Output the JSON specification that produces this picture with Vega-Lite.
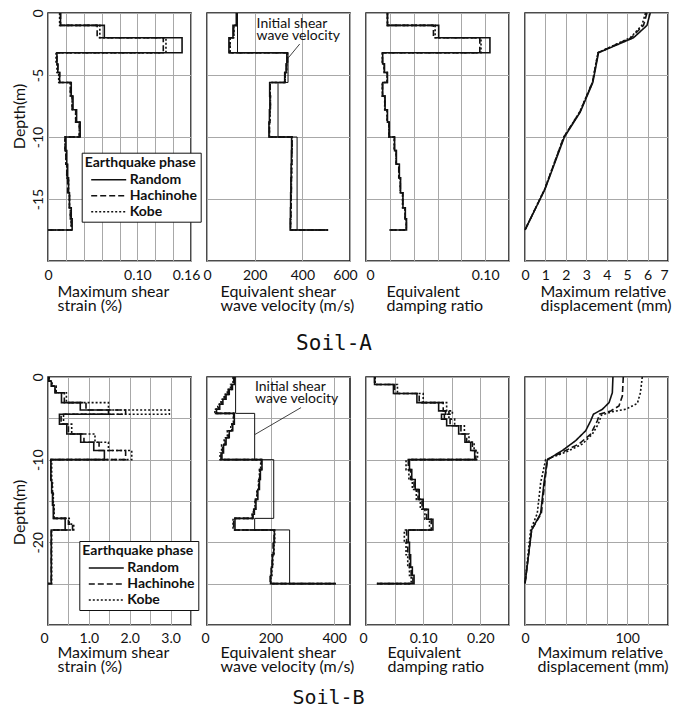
{
"$schema":"https://vega.github.io/schema/vega-lite/v6.json",
"padding":{"left":10,"top":8,"right":5,"bottom":0},
"config":{
 "view":{"stroke":"#111","strokeWidth":1.5},
 "axis":{"grid":true,"gridColor":"#a8a8a8","gridWidth":1,"domain":false,"ticks":false,"labelFont":"Lato","labelFontSize":14,"labelColor":"#111","titleFont":"Lato","titleFontSize":16,"titleFontWeight":"normal","titleColor":"#111","labelFlush":false,"labelOverlap":false},
 "axisX":{"labelPadding":7,"titleAlign":"left","titleAnchor":"start","titleBaseline":"top","titleLineHeight":14},
 "axisY":{"labelAngle":-90,"labelAlign":"center","labelBaseline":"alphabetic","labelPadding":6,"titlePadding":4},
 "legend":{"symbolType":"M-5,0H5","symbolSize":49,"symbolStrokeWidth":1.5,"symbolStrokeColor":"#111","labelFont":"Lato","labelFontSize":14,"labelFontWeight":"bold","labelColor":"#111","titleFont":"Lato","titleFontSize":14,"titleFontWeight":"bold","titleColor":"#111","fillColor":"#ffffff","strokeColor":"#111","padding":3,"rowPadding":2,"titlePadding":3,"labelOffset":14,"symbolOffset":17}
},
"datasets":{
 "a1":[
  {"p":"Random","v":0.014,"d":0},{"p":"Random","v":0.063,"d":-1.0},{"p":"Random","v":0.150,"d":-2.0},{"p":"Random","v":0.010,"d":-3.2},{"p":"Random","v":0.011,"d":-4.1},{"p":"Random","v":0.013,"d":-4.8},{"p":"Random","v":0.026,"d":-5.6},{"p":"Random","v":0.028,"d":-6.7},{"p":"Random","v":0.032,"d":-7.8},{"p":"Random","v":0.036,"d":-8.8},{"p":"Random","v":0.020,"d":-10.0},{"p":"Random","v":0.021,"d":-11.1},{"p":"Random","v":0.022,"d":-12.2},{"p":"Random","v":0.023,"d":-13.3},{"p":"Random","v":0.024,"d":-14.5},{"p":"Random","v":0.026,"d":-15.7},{"p":"Random","v":0.027,"d":-16.6},{"p":"Random","v":0,"d":-17.5},
  {"p":"Hachinohe","v":0.014,"d":0},{"p":"Hachinohe","v":0.055,"d":-1.0},{"p":"Hachinohe","v":0.129,"d":-2.0},{"p":"Hachinohe","v":0.010,"d":-3.2},{"p":"Hachinohe","v":0.011,"d":-4.1},{"p":"Hachinohe","v":0.013,"d":-4.8},{"p":"Hachinohe","v":0.025,"d":-5.6},{"p":"Hachinohe","v":0.027,"d":-6.7},{"p":"Hachinohe","v":0.031,"d":-7.8},{"p":"Hachinohe","v":0.035,"d":-8.8},{"p":"Hachinohe","v":0.019,"d":-10.0},{"p":"Hachinohe","v":0.020,"d":-11.1},{"p":"Hachinohe","v":0.021,"d":-12.2},{"p":"Hachinohe","v":0.022,"d":-13.3},{"p":"Hachinohe","v":0.024,"d":-14.5},{"p":"Hachinohe","v":0.025,"d":-15.7},{"p":"Hachinohe","v":0.026,"d":-16.6},{"p":"Hachinohe","v":0,"d":-17.5},
  {"p":"Kobe","v":0.013,"d":0},{"p":"Kobe","v":0.058,"d":-1.0},{"p":"Kobe","v":0.132,"d":-2.0},{"p":"Kobe","v":0.009,"d":-3.2},{"p":"Kobe","v":0.010,"d":-4.1},{"p":"Kobe","v":0.012,"d":-4.8},{"p":"Kobe","v":0.025,"d":-5.6},{"p":"Kobe","v":0.027,"d":-6.7},{"p":"Kobe","v":0.031,"d":-7.8},{"p":"Kobe","v":0.035,"d":-8.8},{"p":"Kobe","v":0.019,"d":-10.0},{"p":"Kobe","v":0.020,"d":-11.1},{"p":"Kobe","v":0.021,"d":-12.2},{"p":"Kobe","v":0.023,"d":-13.3},{"p":"Kobe","v":0.024,"d":-14.5},{"p":"Kobe","v":0.025,"d":-15.7},{"p":"Kobe","v":0.026,"d":-16.6},{"p":"Kobe","v":0,"d":-17.5}
 ],
 "a2":[
  {"p":"Random","v":123,"d":0},{"p":"Random","v":109,"d":-1.0},{"p":"Random","v":92,"d":-2.0},{"p":"Random","v":335,"d":-3.2},{"p":"Random","v":332,"d":-4.1},{"p":"Random","v":326,"d":-4.8},{"p":"Random","v":263,"d":-5.6},{"p":"Random","v":264,"d":-6.7},{"p":"Random","v":262,"d":-7.8},{"p":"Random","v":260,"d":-8.8},{"p":"Random","v":355,"d":-10.0},{"p":"Random","v":354,"d":-11.1},{"p":"Random","v":353,"d":-12.2},{"p":"Random","v":352,"d":-13.3},{"p":"Random","v":351,"d":-14.5},{"p":"Random","v":350,"d":-15.7},{"p":"Random","v":349,"d":-16.6},{"p":"Random","v":508,"d":-17.5},
  {"p":"Hachinohe","v":125,"d":0},{"p":"Hachinohe","v":112,"d":-1.0},{"p":"Hachinohe","v":96,"d":-2.0},{"p":"Hachinohe","v":338,"d":-3.2},{"p":"Hachinohe","v":334,"d":-4.1},{"p":"Hachinohe","v":328,"d":-4.8},{"p":"Hachinohe","v":265,"d":-5.6},{"p":"Hachinohe","v":266,"d":-6.7},{"p":"Hachinohe","v":264,"d":-7.8},{"p":"Hachinohe","v":262,"d":-8.8},{"p":"Hachinohe","v":357,"d":-10.0},{"p":"Hachinohe","v":356,"d":-11.1},{"p":"Hachinohe","v":355,"d":-12.2},{"p":"Hachinohe","v":354,"d":-13.3},{"p":"Hachinohe","v":353,"d":-14.5},{"p":"Hachinohe","v":352,"d":-15.7},{"p":"Hachinohe","v":351,"d":-16.6},{"p":"Hachinohe","v":508,"d":-17.5},
  {"p":"Kobe","v":126,"d":0},{"p":"Kobe","v":113,"d":-1.0},{"p":"Kobe","v":97,"d":-2.0},{"p":"Kobe","v":337,"d":-3.2},{"p":"Kobe","v":334,"d":-4.1},{"p":"Kobe","v":328,"d":-4.8},{"p":"Kobe","v":265,"d":-5.6},{"p":"Kobe","v":266,"d":-6.7},{"p":"Kobe","v":264,"d":-7.8},{"p":"Kobe","v":262,"d":-8.8},{"p":"Kobe","v":357,"d":-10.0},{"p":"Kobe","v":356,"d":-11.1},{"p":"Kobe","v":355,"d":-12.2},{"p":"Kobe","v":354,"d":-13.3},{"p":"Kobe","v":353,"d":-14.5},{"p":"Kobe","v":352,"d":-15.7},{"p":"Kobe","v":351,"d":-16.6},{"p":"Kobe","v":508,"d":-17.5}
 ],
 "a2i":[{"v":128,"d":0},{"v":340,"d":-3.2},{"v":298,"d":-5.6},{"v":378,"d":-10.0},{"v":508,"d":-17.5}],
 "a2t":[{"v":208,"d":-0.3,"t":"Initial shear\nwave velocity"}],
 "a2r":[{"v":389,"d":-2.5,"v2":342,"d2":-3.6}],
 "a3":[
  {"p":"Random","v":0.018,"d":0},{"p":"Random","v":0.061,"d":-1.0},{"p":"Random","v":0.104,"d":-2.0},{"p":"Random","v":0.014,"d":-3.2},{"p":"Random","v":0.0155,"d":-4.1},{"p":"Random","v":0.018,"d":-4.8},{"p":"Random","v":0.014,"d":-5.6},{"p":"Random","v":0.016,"d":-6.7},{"p":"Random","v":0.018,"d":-7.8},{"p":"Random","v":0.0195,"d":-8.8},{"p":"Random","v":0.024,"d":-10.0},{"p":"Random","v":0.0255,"d":-11.1},{"p":"Random","v":0.028,"d":-12.2},{"p":"Random","v":0.029,"d":-13.3},{"p":"Random","v":0.031,"d":-14.5},{"p":"Random","v":0.033,"d":-15.7},{"p":"Random","v":0.034,"d":-16.6},{"p":"Random","v":0.0195,"d":-17.5},
  {"p":"Hachinohe","v":0.018,"d":0},{"p":"Hachinohe","v":0.0566,"d":-1.0},{"p":"Hachinohe","v":0.0955,"d":-2.0},{"p":"Hachinohe","v":0.0138,"d":-3.2},{"p":"Hachinohe","v":0.0153,"d":-4.1},{"p":"Hachinohe","v":0.0178,"d":-4.8},{"p":"Hachinohe","v":0.0138,"d":-5.6},{"p":"Hachinohe","v":0.0158,"d":-6.7},{"p":"Hachinohe","v":0.0178,"d":-7.8},{"p":"Hachinohe","v":0.0193,"d":-8.8},{"p":"Hachinohe","v":0.0238,"d":-10.0},{"p":"Hachinohe","v":0.0253,"d":-11.1},{"p":"Hachinohe","v":0.0275,"d":-12.2},{"p":"Hachinohe","v":0.0288,"d":-13.3},{"p":"Hachinohe","v":0.0308,"d":-14.5},{"p":"Hachinohe","v":0.0328,"d":-15.7},{"p":"Hachinohe","v":0.0338,"d":-16.6},{"p":"Hachinohe","v":0.0195,"d":-17.5},
  {"p":"Kobe","v":0.018,"d":0},{"p":"Kobe","v":0.058,"d":-1.0},{"p":"Kobe","v":0.0965,"d":-2.0},{"p":"Kobe","v":0.0137,"d":-3.2},{"p":"Kobe","v":0.0152,"d":-4.1},{"p":"Kobe","v":0.0177,"d":-4.8},{"p":"Kobe","v":0.0137,"d":-5.6},{"p":"Kobe","v":0.0157,"d":-6.7},{"p":"Kobe","v":0.0177,"d":-7.8},{"p":"Kobe","v":0.0192,"d":-8.8},{"p":"Kobe","v":0.0237,"d":-10.0},{"p":"Kobe","v":0.0252,"d":-11.1},{"p":"Kobe","v":0.0276,"d":-12.2},{"p":"Kobe","v":0.0287,"d":-13.3},{"p":"Kobe","v":0.0307,"d":-14.5},{"p":"Kobe","v":0.0327,"d":-15.7},{"p":"Kobe","v":0.0337,"d":-16.6},{"p":"Kobe","v":0.0195,"d":-17.5}
 ],
 "a4":[
  {"p":"Random","v":6.13,"d":0},{"p":"Random","v":5.97,"d":-1.0},{"p":"Random","v":5.31,"d":-2.0},{"p":"Random","v":3.6,"d":-3.2},{"p":"Random","v":3.32,"d":-5.6},{"p":"Random","v":2.70,"d":-8.0},{"p":"Random","v":1.93,"d":-10.0},{"p":"Random","v":0.98,"d":-14.2},{"p":"Random","v":0,"d":-17.5},
  {"p":"Hachinohe","v":5.97,"d":0},{"p":"Hachinohe","v":5.8,"d":-1.0},{"p":"Hachinohe","v":5.2,"d":-2.0},{"p":"Hachinohe","v":3.58,"d":-3.2},{"p":"Hachinohe","v":3.3,"d":-5.6},{"p":"Hachinohe","v":2.68,"d":-8.0},{"p":"Hachinohe","v":1.9,"d":-10.0},{"p":"Hachinohe","v":0.97,"d":-14.2},{"p":"Hachinohe","v":0,"d":-17.5},
  {"p":"Kobe","v":5.9,"d":0},{"p":"Kobe","v":5.72,"d":-1.0},{"p":"Kobe","v":5.15,"d":-2.0},{"p":"Kobe","v":3.57,"d":-3.2},{"p":"Kobe","v":3.3,"d":-5.6},{"p":"Kobe","v":2.67,"d":-8.0},{"p":"Kobe","v":1.9,"d":-10.0},{"p":"Kobe","v":0.96,"d":-14.2},{"p":"Kobe","v":0,"d":-17.5}
 ],
 "b1":[
  {"p":"Random","v":0.02,"d":0},{"p":"Random","v":0.08,"d":-0.5},{"p":"Random","v":0.17,"d":-1.1},{"p":"Random","v":0.33,"d":-1.9},{"p":"Random","v":0.79,"d":-3.1},{"p":"Random","v":1.48,"d":-4.0},{"p":"Random","v":0.28,"d":-4.5},{"p":"Random","v":0.46,"d":-5.7},{"p":"Random","v":0.80,"d":-6.9},{"p":"Random","v":1.12,"d":-7.9},{"p":"Random","v":1.38,"d":-8.9},{"p":"Random","v":0.07,"d":-10.0},{"p":"Random","v":0.09,"d":-12.5},{"p":"Random","v":0.11,"d":-14.0},{"p":"Random","v":0.13,"d":-15.5},{"p":"Random","v":0.42,"d":-17.1},{"p":"Random","v":0.08,"d":-18.5},{"p":"Random","v":0.08,"d":-21.0},{"p":"Random","v":0,"d":-25.0},
  {"p":"Hachinohe","v":0.02,"d":0},{"p":"Hachinohe","v":0.09,"d":-0.5},{"p":"Hachinohe","v":0.18,"d":-1.1},{"p":"Hachinohe","v":0.40,"d":-1.9},{"p":"Hachinohe","v":0.93,"d":-3.1},{"p":"Hachinohe","v":1.90,"d":-4.0},{"p":"Hachinohe","v":0.32,"d":-4.5},{"p":"Hachinohe","v":0.50,"d":-5.7},{"p":"Hachinohe","v":0.88,"d":-6.9},{"p":"Hachinohe","v":1.25,"d":-7.9},{"p":"Hachinohe","v":1.90,"d":-8.9},{"p":"Hachinohe","v":0.07,"d":-10.0},{"p":"Hachinohe","v":0.10,"d":-12.5},{"p":"Hachinohe","v":0.12,"d":-14.0},{"p":"Hachinohe","v":0.14,"d":-15.5},{"p":"Hachinohe","v":0.50,"d":-17.1},{"p":"Hachinohe","v":0.60,"d":-17.8},{"p":"Hachinohe","v":0.08,"d":-18.5},{"p":"Hachinohe","v":0.08,"d":-21.0},{"p":"Hachinohe","v":0,"d":-25.0},
  {"p":"Kobe","v":0.03,"d":0},{"p":"Kobe","v":0.10,"d":-0.5},{"p":"Kobe","v":0.20,"d":-1.1},{"p":"Kobe","v":0.45,"d":-1.9},{"p":"Kobe","v":1.48,"d":-3.1},{"p":"Kobe","v":2.97,"d":-4.0},{"p":"Kobe","v":0.38,"d":-4.5},{"p":"Kobe","v":0.58,"d":-5.7},{"p":"Kobe","v":1.15,"d":-6.9},{"p":"Kobe","v":1.48,"d":-7.9},{"p":"Kobe","v":2.05,"d":-8.9},{"p":"Kobe","v":0.09,"d":-10.0},{"p":"Kobe","v":0.11,"d":-12.5},{"p":"Kobe","v":0.13,"d":-14.0},{"p":"Kobe","v":0.15,"d":-15.5},{"p":"Kobe","v":0.52,"d":-17.1},{"p":"Kobe","v":0.63,"d":-17.8},{"p":"Kobe","v":0.09,"d":-18.5},{"p":"Kobe","v":0.09,"d":-21.0},{"p":"Kobe","v":0,"d":-25.0}
 ],
 "b2":[
  {"p":"Random","v":86,"d":0},{"p":"Random","v":80,"d":-0.9},{"p":"Random","v":70,"d":-1.5},{"p":"Random","v":60,"d":-2.1},{"p":"Random","v":50,"d":-2.7},{"p":"Random","v":40,"d":-3.3},{"p":"Random","v":30,"d":-3.9},{"p":"Random","v":86,"d":-4.4},{"p":"Random","v":81,"d":-5.7},{"p":"Random","v":70,"d":-6.5},{"p":"Random","v":60,"d":-7.35},{"p":"Random","v":52,"d":-8.2},{"p":"Random","v":47,"d":-9.2},{"p":"Random","v":173,"d":-10.0},{"p":"Random","v":168,"d":-11.2},{"p":"Random","v":165,"d":-12.4},{"p":"Random","v":160,"d":-13.6},{"p":"Random","v":154,"d":-14.8},{"p":"Random","v":149,"d":-16.0},{"p":"Random","v":145,"d":-16.6},{"p":"Random","v":88,"d":-17.1},{"p":"Random","v":212,"d":-18.5},{"p":"Random","v":210,"d":-20.0},{"p":"Random","v":206,"d":-21.5},{"p":"Random","v":203,"d":-23.0},{"p":"Random","v":200,"d":-24.0},{"p":"Random","v":405,"d":-25.0},
  {"p":"Hachinohe","v":84,"d":0},{"p":"Hachinohe","v":77,"d":-0.9},{"p":"Hachinohe","v":67,"d":-1.5},{"p":"Hachinohe","v":57,"d":-2.1},{"p":"Hachinohe","v":47,"d":-2.7},{"p":"Hachinohe","v":37,"d":-3.3},{"p":"Hachinohe","v":27,"d":-3.9},{"p":"Hachinohe","v":84,"d":-4.4},{"p":"Hachinohe","v":78,"d":-5.7},{"p":"Hachinohe","v":67,"d":-6.5},{"p":"Hachinohe","v":57,"d":-7.35},{"p":"Hachinohe","v":49,"d":-8.2},{"p":"Hachinohe","v":44,"d":-9.2},{"p":"Hachinohe","v":171,"d":-10.0},{"p":"Hachinohe","v":166,"d":-11.2},{"p":"Hachinohe","v":163,"d":-12.4},{"p":"Hachinohe","v":158,"d":-13.6},{"p":"Hachinohe","v":152,"d":-14.8},{"p":"Hachinohe","v":147,"d":-16.0},{"p":"Hachinohe","v":143,"d":-16.6},{"p":"Hachinohe","v":84,"d":-17.1},{"p":"Hachinohe","v":211,"d":-18.5},{"p":"Hachinohe","v":208,"d":-20.0},{"p":"Hachinohe","v":205,"d":-21.5},{"p":"Hachinohe","v":202,"d":-23.0},{"p":"Hachinohe","v":199,"d":-24.0},{"p":"Hachinohe","v":405,"d":-25.0},
  {"p":"Kobe","v":82,"d":0},{"p":"Kobe","v":74,"d":-0.9},{"p":"Kobe","v":64,"d":-1.5},{"p":"Kobe","v":54,"d":-2.1},{"p":"Kobe","v":44,"d":-2.7},{"p":"Kobe","v":34,"d":-3.3},{"p":"Kobe","v":25,"d":-3.9},{"p":"Kobe","v":83,"d":-4.4},{"p":"Kobe","v":75,"d":-5.7},{"p":"Kobe","v":64,"d":-6.5},{"p":"Kobe","v":54,"d":-7.35},{"p":"Kobe","v":46,"d":-8.2},{"p":"Kobe","v":41,"d":-9.2},{"p":"Kobe","v":169,"d":-10.0},{"p":"Kobe","v":165,"d":-11.2},{"p":"Kobe","v":162,"d":-12.4},{"p":"Kobe","v":157,"d":-13.6},{"p":"Kobe","v":151,"d":-14.8},{"p":"Kobe","v":146,"d":-16.0},{"p":"Kobe","v":142,"d":-16.6},{"p":"Kobe","v":82,"d":-17.1},{"p":"Kobe","v":213,"d":-18.5},{"p":"Kobe","v":211,"d":-20.0},{"p":"Kobe","v":207,"d":-21.5},{"p":"Kobe","v":204,"d":-23.0},{"p":"Kobe","v":201,"d":-24.0},{"p":"Kobe","v":405,"d":-25.0}
 ],
 "b2i":[{"v":90,"d":0},{"v":150,"d":-4.4},{"v":210,"d":-10.0},{"v":150,"d":-17.1},{"v":260,"d":-18.5},{"v":405,"d":-25.0}],
 "b2t":[{"v":151,"d":-0.35,"t":"Initial shear\nwave velocity"}],
 "b2r":[{"v":296,"d":-3.7,"v2":151,"d2":-6.95}],
 "b3":[
  {"p":"Random","v":0.015,"d":0},{"p":"Random","v":0.048,"d":-0.9},{"p":"Random","v":0.089,"d":-2.0},{"p":"Random","v":0.127,"d":-3.1},{"p":"Random","v":0.139,"d":-4.1},{"p":"Random","v":0.132,"d":-4.5},{"p":"Random","v":0.141,"d":-5.1},{"p":"Random","v":0.162,"d":-5.9},{"p":"Random","v":0.173,"d":-6.9},{"p":"Random","v":0.183,"d":-7.9},{"p":"Random","v":0.190,"d":-8.9},{"p":"Random","v":0.076,"d":-10.0},{"p":"Random","v":0.080,"d":-11.2},{"p":"Random","v":0.086,"d":-12.4},{"p":"Random","v":0.093,"d":-13.6},{"p":"Random","v":0.100,"d":-14.8},{"p":"Random","v":0.109,"d":-16.0},{"p":"Random","v":0.117,"d":-17.2},{"p":"Random","v":0.074,"d":-18.5},{"p":"Random","v":0.076,"d":-20.0},{"p":"Random","v":0.078,"d":-21.5},{"p":"Random","v":0.081,"d":-23.0},{"p":"Random","v":0.084,"d":-24.0},{"p":"Random","v":0.019,"d":-25.0},
  {"p":"Hachinohe","v":0.015,"d":0},{"p":"Hachinohe","v":0.050,"d":-0.9},{"p":"Hachinohe","v":0.093,"d":-2.0},{"p":"Hachinohe","v":0.135,"d":-3.1},{"p":"Hachinohe","v":0.145,"d":-4.1},{"p":"Hachinohe","v":0.137,"d":-4.5},{"p":"Hachinohe","v":0.147,"d":-5.1},{"p":"Hachinohe","v":0.166,"d":-5.9},{"p":"Hachinohe","v":0.176,"d":-6.9},{"p":"Hachinohe","v":0.186,"d":-7.9},{"p":"Hachinohe","v":0.192,"d":-8.9},{"p":"Hachinohe","v":0.074,"d":-10.0},{"p":"Hachinohe","v":0.078,"d":-11.2},{"p":"Hachinohe","v":0.084,"d":-12.4},{"p":"Hachinohe","v":0.091,"d":-13.6},{"p":"Hachinohe","v":0.098,"d":-14.8},{"p":"Hachinohe","v":0.106,"d":-16.0},{"p":"Hachinohe","v":0.114,"d":-17.2},{"p":"Hachinohe","v":0.071,"d":-18.5},{"p":"Hachinohe","v":0.073,"d":-20.0},{"p":"Hachinohe","v":0.076,"d":-21.5},{"p":"Hachinohe","v":0.079,"d":-23.0},{"p":"Hachinohe","v":0.082,"d":-24.0},{"p":"Hachinohe","v":0.019,"d":-25.0},
  {"p":"Kobe","v":0.016,"d":0},{"p":"Kobe","v":0.055,"d":-0.9},{"p":"Kobe","v":0.100,"d":-2.0},{"p":"Kobe","v":0.141,"d":-3.1},{"p":"Kobe","v":0.151,"d":-4.1},{"p":"Kobe","v":0.145,"d":-4.5},{"p":"Kobe","v":0.155,"d":-5.1},{"p":"Kobe","v":0.172,"d":-5.9},{"p":"Kobe","v":0.180,"d":-6.9},{"p":"Kobe","v":0.189,"d":-7.9},{"p":"Kobe","v":0.195,"d":-8.9},{"p":"Kobe","v":0.070,"d":-10.0},{"p":"Kobe","v":0.075,"d":-11.2},{"p":"Kobe","v":0.081,"d":-12.4},{"p":"Kobe","v":0.088,"d":-13.6},{"p":"Kobe","v":0.095,"d":-14.8},{"p":"Kobe","v":0.103,"d":-16.0},{"p":"Kobe","v":0.111,"d":-17.2},{"p":"Kobe","v":0.067,"d":-18.5},{"p":"Kobe","v":0.070,"d":-20.0},{"p":"Kobe","v":0.073,"d":-21.5},{"p":"Kobe","v":0.076,"d":-23.0},{"p":"Kobe","v":0.079,"d":-24.0},{"p":"Kobe","v":0.019,"d":-25.0}
 ],
 "b4":[
  {"p":"Random","v":86.1,"d":0},{"p":"Random","v":85.5,"d":-1.9},{"p":"Random","v":82.3,"d":-3.1},{"p":"Random","v":75.8,"d":-3.9},{"p":"Random","v":67,"d":-4.5},{"p":"Random","v":64.3,"d":-5.3},{"p":"Random","v":59.4,"d":-6.5},{"p":"Random","v":49.6,"d":-7.7},{"p":"Random","v":36.5,"d":-8.9},{"p":"Random","v":21.9,"d":-10.0},{"p":"Random","v":18.6,"d":-12.8},{"p":"Random","v":15.3,"d":-16.5},{"p":"Random","v":6.5,"d":-18.5},{"p":"Random","v":0,"d":-25.0},
  {"p":"Hachinohe","v":96.2,"d":0},{"p":"Hachinohe","v":95.3,"d":-2.3},{"p":"Hachinohe","v":92,"d":-3.5},{"p":"Hachinohe","v":84,"d":-4.1},{"p":"Hachinohe","v":73,"d":-4.5},{"p":"Hachinohe","v":70.8,"d":-5.3},{"p":"Hachinohe","v":64.3,"d":-6.9},{"p":"Hachinohe","v":52.9,"d":-8.1},{"p":"Hachinohe","v":36.5,"d":-9.1},{"p":"Hachinohe","v":21.9,"d":-10.0},{"p":"Hachinohe","v":19.3,"d":-12.8},{"p":"Hachinohe","v":16,"d":-16.5},{"p":"Hachinohe","v":6.5,"d":-18.5},{"p":"Hachinohe","v":0,"d":-25.0},
  {"p":"Kobe","v":114.8,"d":0},{"p":"Kobe","v":113,"d":-1.9},{"p":"Kobe","v":110,"d":-3.2},{"p":"Kobe","v":98.6,"d":-3.9},{"p":"Kobe","v":85.5,"d":-4.2},{"p":"Kobe","v":74.9,"d":-4.6},{"p":"Kobe","v":71.7,"d":-5.7},{"p":"Kobe","v":66,"d":-6.9},{"p":"Kobe","v":56.3,"d":-8.1},{"p":"Kobe","v":39.8,"d":-9.1},{"p":"Kobe","v":20.2,"d":-10.0},{"p":"Kobe","v":15.3,"d":-12.8},{"p":"Kobe","v":12,"d":-16.5},{"p":"Kobe","v":5.5,"d":-18.5},{"p":"Kobe","v":0,"d":-25.0}
 ]
},
"spacing":18,
"resolve":{"scale":{"strokeDash":"independent"},"legend":{"strokeDash":"independent"}},
"vconcat":[
 {
  "bounds":"flush","spacing":16,
  "resolve":{"scale":{"strokeDash":"independent"},"legend":{"strokeDash":"independent"}},
  "title":{"text":"Soil-A","orient":"bottom","anchor":"middle","dx":-7,"offset":19,"font":"DejaVu Sans Mono","fontSize":21,"fontWeight":"normal","color":"#111"},
  "hconcat":[
   {"width":143,"height":248,"layer":[
    {"data":{"name":"a1"},"mark":{"type":"line","interpolate":"step-before","strokeWidth":1.6,"color":"#111"},
     "encoding":{
      "x":{"field":"v","type":"quantitative","scale":{"domain":[0,0.16],"nice":false},"axis":{"values":[0,0.02,0.04,0.06,0.08,0.1,0.12,0.14,0.16],"labelExpr":"datum.value==0?'0':abs(datum.value-0.1)<1e-6?'0.10':abs(datum.value-0.16)<1e-6?'0.16':''","labelOffset":{"condition":{"test":"datum.value>0.15","value":-5},"value":0},"title":["Maximum shear","strain (%)"],"titleX":9,"titleY":22}},
      "y":{"field":"d","type":"quantitative","scale":{"domain":[-20,0],"nice":false},"axis":{"values":[-20,-15,-10,-5,0],"labelExpr":"datum.value==-20?'':''+datum.value","title":"Depth(m)","titleY":103}},
      "strokeDash":{"field":"p","type":"nominal","scale":{"domain":["Random","Hachinohe","Kobe"],"range":[[1,0],[6,3],[2,2]]},"legend":{"title":"Earthquake phase","orient":"none","legendX":33.7,"legendY":139.7}},
      "order":{"field":"d","sort":"descending"}}}
   ]},
   {"width":143,"height":248,"layer":[
    {"data":{"name":"a2"},"mark":{"type":"line","interpolate":"step-before","strokeWidth":1.6,"color":"#111"},
     "encoding":{
      "x":{"field":"v","type":"quantitative","scale":{"domain":[0,600],"nice":false},"axis":{"values":[0,100,200,300,400,500,600],"labelExpr":"datum.value%200==0?''+datum.value:''","labelOffset":{"condition":{"test":"datum.value>550","value":-5},"value":0},"title":["Equivalent shear","wave velocity (m/s)"],"titleX":13,"titleY":22}},
      "y":{"field":"d","type":"quantitative","scale":{"domain":[-20,0],"nice":false},"axis":{"values":[-20,-15,-10,-5,0],"labels":false,"title":null}},
      "strokeDash":{"field":"p","type":"nominal","scale":{"domain":["Random","Hachinohe","Kobe"],"range":[[1,0],[6,3],[2,2]]},"legend":null},
      "order":{"field":"d","sort":"descending"}}},
    {"data":{"name":"a2i"},"mark":{"type":"line","interpolate":"step-before","strokeWidth":1,"color":"#111"},
     "encoding":{"x":{"field":"v","type":"quantitative"},"y":{"field":"d","type":"quantitative"},"order":{"field":"d","sort":"descending"}}},
    {"data":{"name":"a2t"},"mark":{"type":"text","align":"left","baseline":"top","font":"Lato","fontSize":14,"lineHeight":12,"lineBreak":"\n","color":"#111"},
     "encoding":{"x":{"field":"v","type":"quantitative"},"y":{"field":"d","type":"quantitative"},"text":{"field":"t"}}},
    {"data":{"name":"a2r"},"mark":{"type":"rule","strokeWidth":0.8,"color":"#111"},
     "encoding":{"x":{"field":"v","type":"quantitative"},"y":{"field":"d","type":"quantitative"},"x2":{"field":"v2"},"y2":{"field":"d2"}}}
   ]},
   {"width":143,"height":248,"layer":[
    {"data":{"name":"a3"},"mark":{"type":"line","interpolate":"step-before","strokeWidth":1.6,"color":"#111"},
     "encoding":{
      "x":{"field":"v","type":"quantitative","scale":{"domain":[0,0.12],"nice":false},"axis":{"values":[0,0.02,0.04,0.06,0.08,0.1,0.12],"labelExpr":"datum.value==0?'0':abs(datum.value-0.1)<1e-6?'0.10':''","labelOffset":{"condition":{"test":"datum.value==0","value":4},"value":0},"title":["Equivalent","damping ratio"],"titleX":20,"titleY":22}},
      "y":{"field":"d","type":"quantitative","scale":{"domain":[-20,0],"nice":false},"axis":{"values":[-20,-15,-10,-5,0],"labels":false,"title":null}},
      "strokeDash":{"field":"p","type":"nominal","scale":{"domain":["Random","Hachinohe","Kobe"],"range":[[1,0],[6,3],[2,2]]},"legend":null},
      "order":{"field":"d","sort":"descending"}}}
   ]},
   {"width":143,"height":248,"layer":[
    {"data":{"name":"a4"},"mark":{"type":"line","strokeWidth":1.6,"color":"#111"},
     "encoding":{
      "x":{"field":"v","type":"quantitative","scale":{"domain":[0,7],"nice":false},"axis":{"values":[0,1,2,3,4,5,6,7],"labelOffset":{"condition":{"test":"datum.value==7","value":-4},"value":0},"title":["Maximum relative","displacement (mm)"],"titleX":15,"titleY":22}},
      "y":{"field":"d","type":"quantitative","scale":{"domain":[-20,0],"nice":false},"axis":{"values":[-20,-15,-10,-5,0],"labels":false,"title":null}},
      "strokeDash":{"field":"p","type":"nominal","scale":{"domain":["Random","Hachinohe","Kobe"],"range":[[1,0],[6,3],[2,2]]},"legend":null},
      "order":{"field":"d","sort":"descending"}}}
   ]}
  ]
 },
 {
  "bounds":"flush","spacing":16,
  "resolve":{"scale":{"strokeDash":"independent"},"legend":{"strokeDash":"independent"}},
  "title":{"text":"Soil-B","orient":"bottom","anchor":"middle","dx":-11,"offset":13,"font":"DejaVu Sans Mono","fontSize":20,"fontWeight":"normal","color":"#111"},
  "hconcat":[
   {"width":143,"height":248,"layer":[
    {"data":{"name":"b1"},"mark":{"type":"line","interpolate":"step-before","strokeWidth":1.6,"color":"#111"},
     "encoding":{
      "x":{"field":"v","type":"quantitative","scale":{"domain":[0,3.5],"nice":false},"axis":{"values":[0,0.5,1,1.5,2,2.5,3,3.5],"labelExpr":"datum.value==0?'0':datum.value==1?'1.0':datum.value==2?'2.0':datum.value==3?'3.0':''","labelOffset":{"condition":{"test":"datum.value==0","value":-4},"value":0},"labelPadding":6,"title":["Maximum shear","strain (%)"],"titleX":9,"titleY":19}},
      "y":{"field":"d","type":"quantitative","scale":{"domain":[-30,0],"nice":false},"axis":{"values":[-30,-25,-20,-15,-10,-5,0],"labelExpr":"(datum.value==0||datum.value==-10||datum.value==-20)?''+datum.value:''","title":"Depth(m)","titleY":135}},
      "strokeDash":{"field":"p","type":"nominal","scale":{"domain":["Random","Hachinohe","Kobe"],"range":[[1,0],[6,3],[2,2]]},"legend":{"title":"Earthquake phase","orient":"none","legendX":31.3,"legendY":164}},
      "order":{"field":"d","sort":"descending"}}}
   ]},
   {"width":143,"height":248,"layer":[
    {"data":{"name":"b2"},"mark":{"type":"line","interpolate":"step-before","strokeWidth":1.6,"color":"#111"},
     "encoding":{
      "x":{"field":"v","type":"quantitative","scale":{"domain":[0,450],"nice":false},"axis":{"values":[0,50,100,150,200,250,300,350,400,450],"labelExpr":"(datum.value==0||datum.value==200||datum.value==400)?''+datum.value:''","labelOffset":{"condition":{"test":"datum.value==0","value":-2},"value":0},"labelPadding":6,"title":["Equivalent shear","wave velocity (m/s)"],"titleX":13,"titleY":19}},
      "y":{"field":"d","type":"quantitative","scale":{"domain":[-30,0],"nice":false},"axis":{"values":[-30,-25,-20,-15,-10,-5,0],"labels":false,"title":null}},
      "strokeDash":{"field":"p","type":"nominal","scale":{"domain":["Random","Hachinohe","Kobe"],"range":[[1,0],[6,3],[2,2]]},"legend":null},
      "order":{"field":"d","sort":"descending"}}},
    {"data":{"name":"b2i"},"mark":{"type":"line","interpolate":"step-before","strokeWidth":1,"color":"#111"},
     "encoding":{"x":{"field":"v","type":"quantitative"},"y":{"field":"d","type":"quantitative"},"order":{"field":"d","sort":"descending"}}},
    {"data":{"name":"b2t"},"mark":{"type":"text","align":"left","baseline":"top","font":"Lato","fontSize":14,"lineHeight":12,"lineBreak":"\n","color":"#111"},
     "encoding":{"x":{"field":"v","type":"quantitative"},"y":{"field":"d","type":"quantitative"},"text":{"field":"t"}}},
    {"data":{"name":"b2r"},"mark":{"type":"rule","strokeWidth":0.8,"color":"#111"},
     "encoding":{"x":{"field":"v","type":"quantitative"},"y":{"field":"d","type":"quantitative"},"x2":{"field":"v2"},"y2":{"field":"d2"}}}
   ]},
   {"width":143,"height":248,"layer":[
    {"data":{"name":"b3"},"mark":{"type":"line","interpolate":"step-before","strokeWidth":1.6,"color":"#111"},
     "encoding":{
      "x":{"field":"v","type":"quantitative","scale":{"domain":[0,0.25],"nice":false},"axis":{"values":[0,0.05,0.1,0.15,0.2,0.25],"labelExpr":"datum.value==0?'0':abs(datum.value-0.1)<1e-6?'0.10':abs(datum.value-0.2)<1e-6?'0.20':''","labelOffset":{"condition":{"test":"datum.value==0","value":-3},"value":0},"labelPadding":6,"title":["Equivalent","damping ratio"],"titleX":21,"titleY":19}},
      "y":{"field":"d","type":"quantitative","scale":{"domain":[-30,0],"nice":false},"axis":{"values":[-30,-25,-20,-15,-10,-5,0],"labels":false,"title":null}},
      "strokeDash":{"field":"p","type":"nominal","scale":{"domain":["Random","Hachinohe","Kobe"],"range":[[1,0],[6,3],[2,2]]},"legend":null},
      "order":{"field":"d","sort":"descending"}}}
   ]},
   {"width":143,"height":248,"layer":[
    {"data":{"name":"b4"},"mark":{"type":"line","strokeWidth":1.6,"color":"#111"},
     "encoding":{
      "x":{"field":"v","type":"quantitative","scale":{"domain":[0,140],"nice":false},"axis":{"values":[0,20,40,60,80,100,120,140],"labelExpr":"(datum.value==0||datum.value==100)?''+datum.value:''","labelPadding":6,"title":["Maximum relative","displacement (mm)"],"titleX":12,"titleY":19}},
      "y":{"field":"d","type":"quantitative","scale":{"domain":[-30,0],"nice":false},"axis":{"values":[-30,-25,-20,-15,-10,-5,0],"labels":false,"title":null}},
      "strokeDash":{"field":"p","type":"nominal","scale":{"domain":["Random","Hachinohe","Kobe"],"range":[[1,0],[6,3],[2,2]]},"legend":null},
      "order":{"field":"d","sort":"descending"}}}
   ]}
  ]
 }
]
}
